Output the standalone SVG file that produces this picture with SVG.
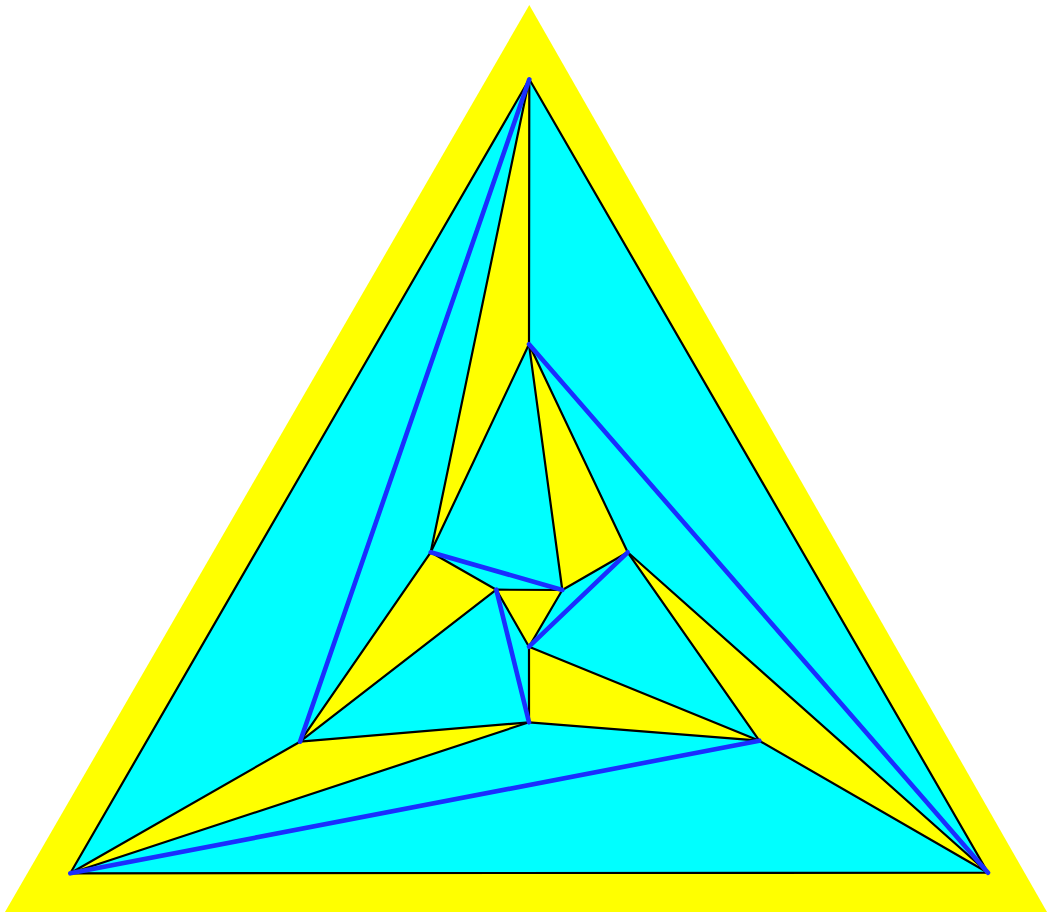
<svg xmlns="http://www.w3.org/2000/svg" width="1047" height="912" viewBox="0 0 1047 912">
<style>
.y{fill:#ffff00}
.c{fill:#00ffff}
.e{stroke:#000;stroke-width:2.2;fill:none;stroke-linejoin:round;stroke-linecap:round}
.b{stroke:#1a2eff;stroke-width:4.6;fill:none;stroke-linecap:round}
</style>
<rect width="1047" height="912" fill="#fff"/>
<polygon class="y" points="529.3,5 5,912 1047,912"/>
<g id="faces">
<polygon class="c" points="529.3,79.3 70.3,873.3 300,741.7"/>
<polygon class="c" points="529.3,79.3 300,741.7 430.7,552.3"/>
<polygon class="y" points="529.3,79.3 529,344.3 430.7,552.3"/>
<polygon class="c" points="529.3,79.3 529,344.3 988,872.7"/>
<polygon class="c" points="529,344.3 627.7,552.3 988,872.7"/>
<polygon class="c" points="529,344.3 430.7,552.3 562.3,590"/>
<polygon class="y" points="529,344.3 562.3,590 627.7,552.3"/>
<polygon class="c" points="430.7,552.3 496.3,589.7 562.3,590"/>
<polygon class="y" points="496.3,589.7 562.3,590 529,646.7"/>
<polygon class="c" points="562.3,590 627.7,552.3 529,646.7"/>
<polygon class="c" points="496.3,589.7 529,646.7 529,722.3"/>
<polygon class="y" points="430.7,552.3 300,741.7 496.3,589.7"/>
<polygon class="c" points="300,741.7 496.3,589.7 529,722.3"/>
<polygon class="y" points="300,741.7 529,722.3 70.3,873.3"/>
<polygon class="c" points="70.3,873.3 529,722.3 759.3,740.7"/>
<polygon class="c" points="70.3,873.3 759.3,740.7 988,872.7"/>
<polygon class="y" points="529,646.7 529,722.3 759.3,740.7"/>
<polygon class="c" points="627.7,552.3 529,646.7 759.3,740.7"/>
<polygon class="y" points="627.7,552.3 759.3,740.7 988,872.7"/>
</g>
<g id="connectors">
<g id="black-edges" class="e">
<polygon points="529.3,79.3 70.3,873.3 988,872.7"/>
<line x1="529.3" y1="79.3" x2="529" y2="344.3"/>
<line x1="529.3" y1="79.3" x2="430.7" y2="552.3"/>
<line x1="529" y1="344.3" x2="430.7" y2="552.3"/>
<line x1="529" y1="344.3" x2="562.3" y2="590"/>
<line x1="529" y1="344.3" x2="627.7" y2="552.3"/>
<line x1="627.7" y1="552.3" x2="988" y2="872.7"/>
<line x1="627.7" y1="552.3" x2="562.3" y2="590"/>
<line x1="627.7" y1="552.3" x2="759.3" y2="740.7"/>
<line x1="430.7" y1="552.3" x2="496.3" y2="589.7"/>
<line x1="430.7" y1="552.3" x2="300" y2="741.7"/>
<polygon points="496.3,589.7 562.3,590 529,646.7"/>
<line x1="496.3" y1="589.7" x2="300" y2="741.7"/>
<line x1="529" y1="646.7" x2="529" y2="722.3"/>
<line x1="529" y1="646.7" x2="759.3" y2="740.7"/>
<line x1="300" y1="741.7" x2="529" y2="722.3"/>
<line x1="300" y1="741.7" x2="70.3" y2="873.3"/>
<line x1="529" y1="722.3" x2="70.3" y2="873.3"/>
<line x1="529" y1="722.3" x2="759.3" y2="740.7"/>
<line x1="759.3" y1="740.7" x2="988" y2="872.7"/>
</g>
<g id="blue-edges" class="b">
<line x1="529.3" y1="79.3" x2="300" y2="741.7"/>
<line x1="529" y1="344.3" x2="988" y2="872.7"/>
<line x1="430.7" y1="552.3" x2="562.3" y2="590"/>
<line x1="627.7" y1="552.3" x2="529" y2="646.7"/>
<line x1="496.3" y1="589.7" x2="529" y2="722.3"/>
<line x1="70.3" y1="873.3" x2="759.3" y2="740.7"/>
</g>
</g>
</svg>
